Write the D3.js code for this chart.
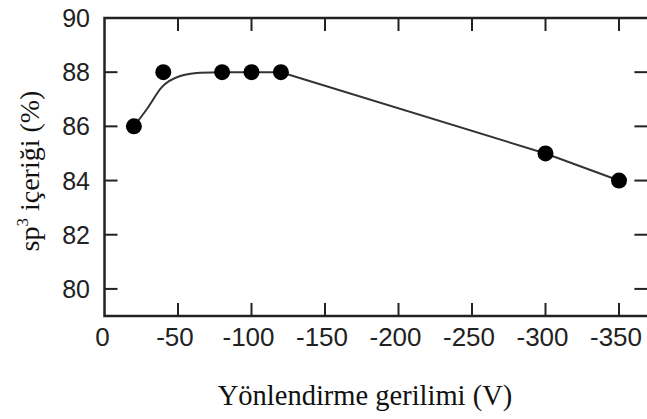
<!DOCTYPE html>
<html>
<head>
  <meta charset="utf-8">
  <title>sp3 içeriği</title>
  <script src="https://d3js.org/d3.v7.min.js"></script>
  <style>
    body { margin: 0; background: #fff; }
    svg { display: block; }
  </style>
</head>
<body>
  <svg width="647" height="419"></svg>

  <script>
    // measured points
    var voltage = [-20, -40, -80, -100, -120, -300, -350];
    var sp3 = [86, 88, 88, 88, 88, 85, 84];

    // guide curve: smooth rise, then straight fall
    var riseVoltage = [-20, -29, -39, -51, -65, -80, -120];
    var riseSp3 = [86, 86.65, 87.45, 87.85, 87.98, 88, 88];
    var fallVoltage = [-120, -300, -350];
    var fallSp3 = [88, 85, 84];

    var xTicks = [0, -50, -100, -150, -200, -250, -300, -350];
    var yTicks = [80, 82, 84, 86, 88, 90];

    var svg = d3.select("svg");

    var x = d3.scaleLinear().domain([0, -370]).range([104.5, 648.4]);
    var y = d3.scaleLinear().domain([79, 90]).range([316, 18]);

    var tickLen = 13;
    var axisColor = "#222";

    // frame
    svg.append("rect")
        .attr("x", x(0))
        .attr("y", y(90))
        .attr("width", x(-370) - x(0))
        .attr("height", y(79) - y(90))
        .attr("fill", "none")
        .attr("stroke", axisColor)
        .attr("stroke-width", 2.5);

    var inner = xTicks.filter(function(d) { return d !== 0; });

    // bottom + top ticks (pointing inward)
    svg.append("g").selectAll("line")
        .data(inner).enter().append("line")
        .attr("x1", function(d) { return x(d); })
        .attr("x2", function(d) { return x(d); })
        .attr("y1", y(79))
        .attr("y2", y(79) - tickLen)
        .attr("stroke", axisColor).attr("stroke-width", 2);

    svg.append("g").selectAll("line")
        .data(inner).enter().append("line")
        .attr("x1", function(d) { return x(d); })
        .attr("x2", function(d) { return x(d); })
        .attr("y1", y(90))
        .attr("y2", y(90) + tickLen)
        .attr("stroke", axisColor).attr("stroke-width", 2);

    var yInner = yTicks.filter(function(d) { return d !== 90; });

    svg.append("g").selectAll("line")
        .data(yInner).enter().append("line")
        .attr("x1", x(0))
        .attr("x2", x(0) + tickLen)
        .attr("y1", function(d) { return y(d); })
        .attr("y2", function(d) { return y(d); })
        .attr("stroke", axisColor).attr("stroke-width", 2);

    svg.append("g").selectAll("line")
        .data(yInner).enter().append("line")
        .attr("x1", x(-370))
        .attr("x2", x(-370) - tickLen - 1)
        .attr("y1", function(d) { return y(d); })
        .attr("y2", function(d) { return y(d); })
        .attr("stroke", axisColor).attr("stroke-width", 2);

    // tick labels
    svg.append("g").selectAll("text")
        .data(xTicks).enter().append("text")
        .attr("x", function(d) { return x(d) + (d === 0 ? -2 : -3); })
        .attr("y", 346)
        .attr("text-anchor", "middle")
        .attr("font-family", "Liberation Sans, Arial, sans-serif")
        .attr("font-size", 26)
        .attr("fill", "#222")
        .text(function(d) { return d; });

    svg.append("g").selectAll("text")
        .data(yTicks).enter().append("text")
        .attr("x", 90)
        .attr("y", function(d) { return y(d); })
        .attr("dy", "0.36em")
        .attr("text-anchor", "end")
        .attr("font-family", "Liberation Sans, Arial, sans-serif")
        .attr("font-size", 25)
        .attr("fill", "#222")
        .text(function(d) { return d; });

    // axis titles
    svg.append("text")
        .attr("x", 365)
        .attr("y", 405)
        .attr("text-anchor", "middle")
        .attr("font-family", "Liberation Serif, Times New Roman, serif")
        .attr("font-size", 28.5)
        .attr("fill", "#111")
        .text("Yönlendirme gerilimi (V)");

    var yl = svg.append("text")
        .attr("transform", "translate(39,171) rotate(-90)")
        .attr("text-anchor", "middle")
        .attr("font-family", "Liberation Serif, Times New Roman, serif")
        .attr("font-size", 28)
        .attr("fill", "#111");
    yl.append("tspan").text("sp");
    yl.append("tspan").attr("font-size", 17).attr("dy", -11).text("3");
    yl.append("tspan").attr("dy", 11).text(" içeriği (%)");

    // curve
    var rise = riseVoltage.map(function(d, i) { return [d, riseSp3[i]]; });
    var fall = fallVoltage.map(function(d, i) { return [d, fallSp3[i]]; });

    var smooth = d3.line()
        .x(function(d) { return x(d[0]); })
        .y(function(d) { return y(d[1]); })
        .curve(d3.curveMonotoneX);

    var straight = d3.line()
        .x(function(d) { return x(d[0]); })
        .y(function(d) { return y(d[1]); });

    svg.append("path")
        .datum(rise)
        .attr("fill", "none")
        .attr("stroke", "#333")
        .attr("stroke-width", 2)
        .attr("d", smooth);

    svg.append("path")
        .datum(fall)
        .attr("fill", "none")
        .attr("stroke", "#333")
        .attr("stroke-width", 2)
        .attr("d", straight);

    // points
    svg.append("g").selectAll("circle")
        .data(voltage).enter().append("circle")
        .attr("cx", function(d) { return x(d); })
        .attr("cy", function(d, i) { return y(sp3[i]); })
        .attr("r", 8)
        .attr("fill", "#000");
  </script>
</body>
</html>
